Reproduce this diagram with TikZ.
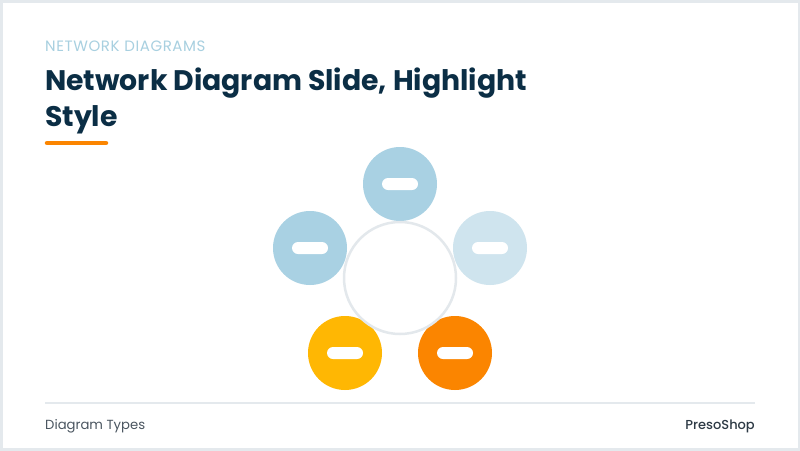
\documentclass[tikz,border=0pt]{standalone}
\usepackage{fontspec}
\setmainfont{Poppins}
\newfontfamily\kickerfont{Poppins}[LetterSpace=4]
\newfontfamily\medfont{Poppins Medium}
\definecolor{navy}{HTML}{0B2E45}
\definecolor{subblue}{HTML}{A8D0E0}
\definecolor{cblue}{HTML}{A9D1E3}
\definecolor{clight}{HTML}{CFE4EE}
\definecolor{cyellow}{HTML}{FFB703}
\definecolor{corange}{HTML}{FB8500}
\definecolor{ringgray}{HTML}{E3E8EC}
\definecolor{footgray}{HTML}{4A5560}
\definecolor{footdark}{HTML}{2D3A45}
\definecolor{framegray}{HTML}{E4E9ED}
\tikzset{
  outer/.style={circle, minimum size=74pt, inner sep=0pt},
  pill/.style={rounded corners=6pt, fill=white, minimum width=36pt, minimum height=12pt, inner sep=0pt},
  hub/.style={circle, minimum size=112pt, inner sep=0pt, fill=white, draw=ringgray, line width=2.5pt},
}
\begin{document}
\begin{tikzpicture}[x=1pt,y=-1pt]
\useasboundingbox (0,0) rectangle (800,450);
\fill[white] (0,0) rectangle (800,450);
\draw[framegray, line width=3pt] (1,1) rectangle (799,449);
% header
\node[anchor=base west, inner sep=0pt, text=subblue, font=\kickerfont\fontsize{15}{17}\selectfont] (kicker) at (45,51) {NETWORK DIAGRAMS};
\node[anchor=base west, inner sep=0pt, text=navy, font=\fontsize{28.3}{34}\selectfont\bfseries] (t1) at (45,90) {Network Diagram Slide, Highlight};
\node[anchor=base west, inner sep=0pt, text=navy, font=\fontsize{28.3}{34}\selectfont\bfseries] (t2) at (45,126) {Style};
\coordinate (ulA) at (47,143);
\coordinate (ulB) at (106,143);
\draw[corange, line width=4.5pt, line cap=round] (ulA) -- (ulB);
% diagram
\node[outer, fill=cblue] (top) at (400,184) {};
\node[outer, fill=cblue] (left) at (310,248) {};
\node[outer, fill=clight] (right) at (490,248) {};
\node[outer, fill=cyellow] (bl) at (345,353) {};
\node[outer, fill=corange] (br) at (455,353) {};
\node[hub] (center) at (400,278) {};
\node[pill] (ptop) at (top) {};
\node[pill] (pleft) at (left) {};
\node[pill] (pright) at (right) {};
\node[pill] (pbl) at (bl) {};
\node[pill] (pbr) at (br) {};
% footer
\coordinate (fA) at (45,403);
\coordinate (fB) at (755,403);
\draw[framegray, line width=2pt] (fA) -- (fB);
\node[anchor=base west, inner sep=0pt, text=footgray, font=\fontsize{13.2}{15}\selectfont] (fl) at (45,429) {Diagram Types};
\node[anchor=base east, inner sep=0pt, text=footdark, font=\medfont\fontsize{13}{15}\selectfont] (fr) at (755,429) {PresoShop};
\end{tikzpicture}
\end{document}
